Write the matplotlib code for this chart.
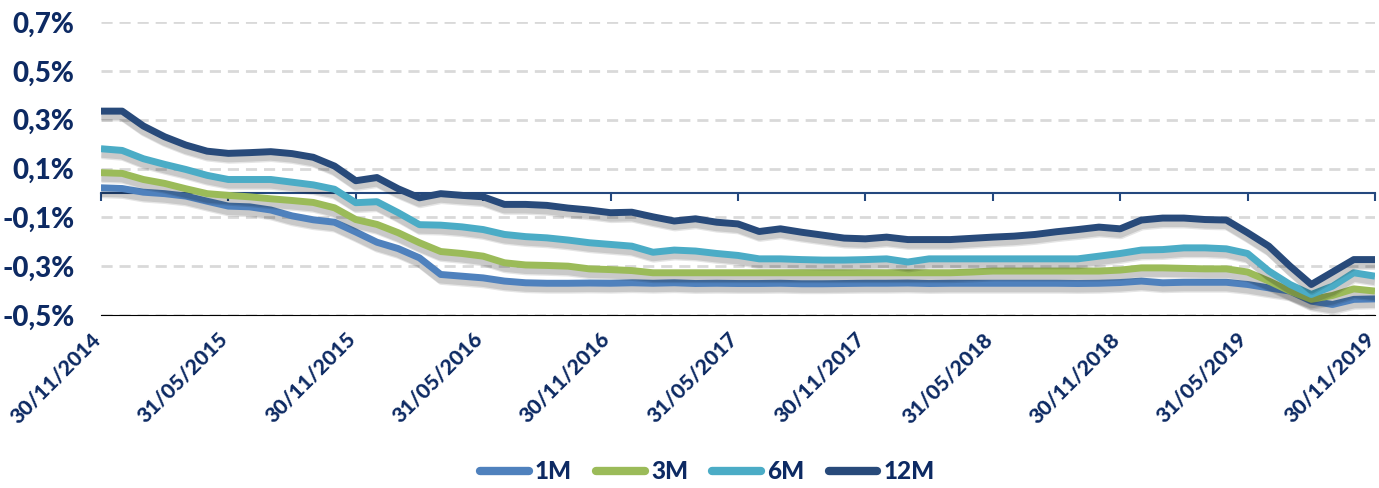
import matplotlib
matplotlib.use("Agg")
import matplotlib.pyplot as plt
import matplotlib.patheffects as pe
import matplotlib.transforms as mtransforms
from matplotlib.lines import Line2D

# ---------------- data ----------------
series_names = ["1M", "3M", "6M", "12M"]

m1 = [0.021, 0.018, 0.003, -0.003, -0.013, -0.034, -0.054, -0.057, -0.070, -0.094, -0.110,
      -0.120, -0.160, -0.202, -0.228, -0.266, -0.334, -0.341, -0.348, -0.361, -0.368,
      -0.370, -0.370, -0.369, -0.370, -0.368, -0.370, -0.368, -0.371, -0.370, -0.371,
      -0.371, -0.370, -0.372, -0.372, -0.371, -0.370, -0.370, -0.369, -0.371, -0.370,
      -0.370, -0.370, -0.370, -0.370, -0.370, -0.371, -0.370, -0.367, -0.361, -0.368,
      -0.366, -0.366, -0.366, -0.375, -0.389, -0.402, -0.443, -0.457, -0.436, -0.434]

m3 = [0.083, 0.080, 0.055, 0.039, 0.017, -0.003, -0.010, -0.016, -0.024, -0.031, -0.039,
      -0.061, -0.109, -0.129, -0.163, -0.204, -0.240, -0.248, -0.259, -0.286, -0.295,
      -0.297, -0.300, -0.311, -0.314, -0.318, -0.327, -0.327, -0.327, -0.327, -0.327,
      -0.327, -0.327, -0.327, -0.327, -0.327, -0.327, -0.327, -0.327, -0.327, -0.327,
      -0.324, -0.320, -0.320, -0.320, -0.320, -0.320, -0.320, -0.316, -0.307, -0.307,
      -0.309, -0.311, -0.311, -0.324, -0.361, -0.402, -0.436, -0.420, -0.393, -0.402]

m6 = [0.181, 0.174, 0.140, 0.117, 0.096, 0.072, 0.055, 0.055, 0.055, 0.044, 0.033,
      0.015, -0.040, -0.036, -0.081, -0.130, -0.132, -0.139, -0.150, -0.170, -0.179,
      -0.184, -0.193, -0.204, -0.211, -0.218, -0.243, -0.234, -0.238, -0.248, -0.256,
      -0.270, -0.270, -0.273, -0.275, -0.275, -0.273, -0.270, -0.283, -0.270, -0.270,
      -0.270, -0.270, -0.270, -0.270, -0.270, -0.270, -0.259, -0.248, -0.234, -0.232,
      -0.225, -0.225, -0.229, -0.248, -0.320, -0.375, -0.416, -0.382, -0.327, -0.341]

m12 = [0.335, 0.335, 0.274, 0.230, 0.196, 0.171, 0.162, 0.165, 0.169, 0.161, 0.146,
       0.110, 0.050, 0.063, 0.017, -0.020, -0.003, -0.010, -0.016, -0.047, -0.047,
       -0.051, -0.062, -0.070, -0.081, -0.079, -0.098, -0.115, -0.106, -0.120, -0.127,
       -0.158, -0.147, -0.161, -0.173, -0.185, -0.188, -0.181, -0.191, -0.191, -0.191,
       -0.186, -0.181, -0.177, -0.170, -0.159, -0.150, -0.140, -0.147, -0.111, -0.103,
       -0.103, -0.109, -0.111, -0.163, -0.218, -0.300, -0.375, -0.324, -0.273, -0.273]

months = list(range(len(m1)))  # monthly observations, 30/11/2014 .. 30/11/2019

xtick_pos = [0, 6, 12, 18, 24, 30, 36, 42, 48, 54, 60]
xtick_labels = ["30/11/2014", "31/05/2015", "30/11/2015", "31/05/2016", "30/11/2016",
                "31/05/2017", "30/11/2017", "31/05/2018", "30/11/2018", "31/05/2019",
                "30/11/2019"]

ytick_vals = [-0.5, -0.3, -0.1, 0.1, 0.3, 0.5, 0.7]
ytick_labels = ["-0,5%", "-0,3%", "-0,1%", "0,1%", "0,3%", "0,5%", "0,7%"]

colors = ["#4F81BD", "#9BBB59", "#4BACC6", "#284A7A"]
navy = "#0D2A63"
axis_col = "#24487E"

# ---------------- figure ----------------
plt.rcParams["font.family"] = ["Lato", "DejaVu Sans"]
fig = plt.figure(figsize=(13.79, 4.88), dpi=100)
ax = fig.add_axes([0.0732, 0.3545, 0.9239, 0.6004])

shadow = [pe.SimpleLineShadow(offset=(0, -3), shadow_color="black", alpha=0.12, linewidth=7),
          pe.SimpleLineShadow(offset=(0.5, -4.5), shadow_color="black", alpha=0.10, linewidth=6),
          pe.Normal()]

for name, vals, c in zip(series_names, [m1, m3, m6, m12], colors):
    ax.plot(months, vals, color=c, lw=5, solid_joinstyle="round",
            solid_capstyle="butt", path_effects=shadow, label=name, zorder=3)

ax.set_xlim(0, 60)
ax.set_ylim(-0.5, 0.7)

# y axis
ax.set_yticks(ytick_vals)
ax.set_yticklabels(ytick_labels)
ax.tick_params(axis="y", length=0, pad=19, labelsize=20, labelcolor=navy)
for lab in ax.get_yticklabels():
    lab.set_fontweight("black")
ax.yaxis.grid(True, linestyle=(0, (4, 2.5)), color="#D9D9D9", linewidth=2)
ax.set_axisbelow(True)

for s in ["left", "right", "top"]:
    ax.spines[s].set_visible(False)

# axis line at 0 with outward ticks, no labels
ax.spines["bottom"].set_position(("data", 0))
ax.spines["bottom"].set_color(axis_col)
ax.spines["bottom"].set_linewidth(1.5)
ax.spines["bottom"].set_zorder(2)
ax.set_xticks(xtick_pos)
ax.tick_params(axis="x", direction="out", length=6, width=1.5, color=axis_col,
               labelbottom=False)

# labels on the bottom edge
sec = ax.secondary_xaxis("bottom")
sec.set_xticks(xtick_pos)
sec.set_xticklabels(xtick_labels, rotation=45, ha="right", va="center",
                    rotation_mode="anchor")
sec.tick_params(length=0, pad=15, labelsize=15.3, labelcolor=navy)
shift = mtransforms.ScaledTranslation(-4 / 100, 0, fig.dpi_scale_trans)
for lab in sec.get_xticklabels():
    lab.set_fontweight("black")
    lab.set_transform(lab.get_transform() + shift)

# legend
handles = [Line2D([0], [0], color=c, lw=6, solid_capstyle="round") for c in colors]
leg = fig.legend(handles, series_names, loc="center", bbox_to_anchor=(0.513, 0.033),
                 ncol=4, frameon=False, handlelength=2.0, handletextpad=0.25,
                 columnspacing=1.0, prop={"size": 17.5, "weight": "black"})
for t in leg.get_texts():
    t.set_color(navy)

fig.savefig("out.png", dpi=100)
